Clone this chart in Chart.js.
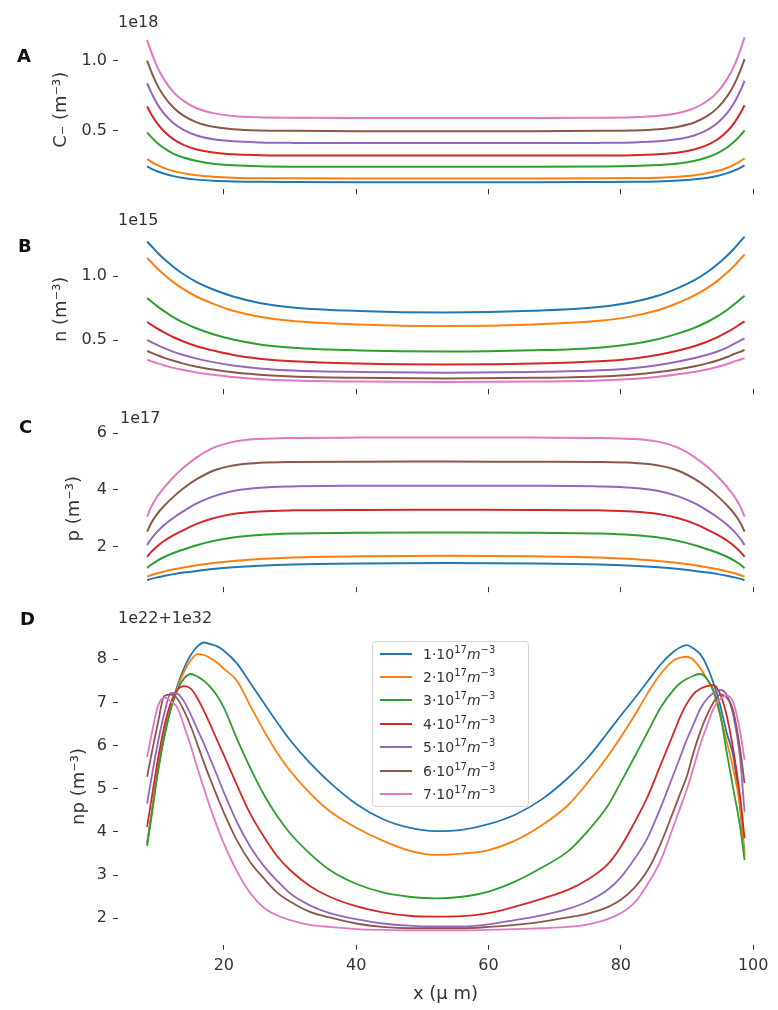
<!DOCTYPE html>
<html><head><meta charset="utf-8">
<script src="https://cdn.jsdelivr.net/npm/chart.js@4.4.1/dist/chart.umd.min.js"></script>
<style>
html,body{margin:0;padding:0;background:#fff;}
#page{position:relative;width:778px;height:1010px;overflow:hidden;font-family:'DejaVu Sans',sans-serif;color:#333;background:#fff;}
canvas{position:absolute;left:0;}
.panel{position:absolute;font-weight:bold;font-size:18px;line-height:18px;color:#111;}
.offset{position:absolute;font-size:16px;line-height:16px;color:#333;white-space:nowrap;}
#legend{position:absolute;left:372px;top:641px;width:157px;height:166px;box-sizing:border-box;border:1px solid rgba(204,204,204,0.8);border-radius:4px;background:rgba(255,255,255,0.8);}
.row{position:absolute;left:0;width:150px;height:20px;}
.sw{position:absolute;left:7px;top:9px;width:32px;height:2px;}
.txt{position:absolute;left:50px;top:0;font-size:14px;line-height:20px;color:#333;white-space:nowrap;}
.txt sup{font-size:10px;line-height:0;vertical-align:6px;}
</style></head>
<body>
<div id="page">
<canvas id="cA" width="778" height="205" style="top:0px;width:778px;height:205px"></canvas>
<canvas id="cB" width="778" height="200" style="top:205px;width:778px;height:200px"></canvas>
<canvas id="cC" width="778" height="200" style="top:405px;width:778px;height:200px"></canvas>
<canvas id="cD" width="778" height="405" style="top:605px;width:778px;height:405px"></canvas>
<div class="panel" style="left:17px;top:47px">A</div>
<div class="panel" style="left:18px;top:237px">B</div>
<div class="panel" style="left:19px;top:418px">C</div>
<div class="panel" style="left:20px;top:610px">D</div>
<div class="offset" id="offA" style="left:118px;top:14px"></div>
<div class="offset" id="offB" style="left:118px;top:212px"></div>
<div class="offset" id="offC" style="left:120px;top:410px"></div>
<div class="offset" id="offD" style="left:118px;top:610px"></div>
<div id="legend"></div>
</div>
<script>
// ---------------- data ----------------
const COLORS = ['#1f77b4','#ff7f0e','#2ca02c','#d62728','#9467bd','#8c564b','#e377c2'];
const concentrations = [1, 2, 3, 4, 5, 6, 7];   // x 10^17 m^-3
const legendLabels = concentrations.map(c => c + '·10¹⁷m⁻³');

// x positions (µm) for panels A, B, C
const xProfile = [8.4, 9.0, 9.9, 10.9, 12.4, 13.9, 15.9, 18.4, 21.4, 25.4, 30.4, 40.4, 53.55,
                  66.7, 76.7, 81.7, 85.7, 88.7, 91.2, 93.2, 94.7, 96.2, 97.2, 98.1, 98.7];

// Panel A: C- (units of 1e18 m^-3)
const cMinus = [
  [0.242,0.227,0.208,0.192,0.173,0.16,0.148,0.14,0.135,0.132,0.131,0.13,0.13,0.13,0.131,0.132,0.135,0.141,0.15,0.162,0.176,0.196,0.214,0.234,0.25],
  [0.295,0.277,0.253,0.232,0.209,0.194,0.179,0.169,0.162,0.158,0.157,0.156,0.156,0.156,0.157,0.159,0.162,0.169,0.18,0.195,0.211,0.235,0.257,0.281,0.30],
  [0.486,0.454,0.412,0.375,0.333,0.306,0.281,0.262,0.251,0.244,0.241,0.24,0.24,0.24,0.242,0.245,0.252,0.263,0.283,0.31,0.339,0.383,0.422,0.466,0.50],
  [0.671,0.618,0.552,0.496,0.436,0.397,0.364,0.342,0.329,0.323,0.321,0.32,0.32,0.32,0.321,0.323,0.33,0.342,0.365,0.399,0.439,0.50,0.558,0.626,0.68],
  [0.838,0.774,0.692,0.624,0.551,0.504,0.464,0.437,0.422,0.414,0.411,0.41,0.41,0.41,0.411,0.414,0.422,0.438,0.466,0.508,0.557,0.633,0.704,0.788,0.855],
  [1.0,0.924,0.828,0.748,0.662,0.606,0.558,0.526,0.509,0.50,0.497,0.495,0.495,0.495,0.497,0.50,0.509,0.527,0.559,0.608,0.665,0.753,0.835,0.933,1.01],
  [1.148,1.064,0.958,0.869,0.773,0.712,0.659,0.624,0.604,0.594,0.591,0.589,0.589,0.589,0.591,0.594,0.605,0.625,0.661,0.716,0.78,0.878,0.97,1.08,1.167]
];
// Panel B: n (units of 1e15 m^-3)
const nElectrons = [
  [1.269,1.236,1.186,1.136,1.070,1.014,0.953,0.895,0.840,0.790,0.755,0.727,0.715,0.728,0.758,0.795,0.848,0.908,0.970,1.035,1.095,1.166,1.219,1.272,1.308],
  [1.141,1.109,1.061,1.014,0.950,0.897,0.838,0.783,0.729,0.682,0.648,0.622,0.61,0.622,0.650,0.685,0.735,0.791,0.850,0.911,0.966,1.033,1.083,1.134,1.167],
  [0.828,0.803,0.765,0.728,0.678,0.636,0.590,0.546,0.504,0.466,0.440,0.419,0.41,0.420,0.441,0.469,0.508,0.552,0.597,0.645,0.689,0.741,0.781,0.820,0.846],
  [0.641,0.621,0.591,0.562,0.522,0.489,0.452,0.418,0.384,0.355,0.334,0.317,0.31,0.317,0.334,0.355,0.386,0.419,0.454,0.491,0.525,0.565,0.596,0.626,0.646],
  [0.50,0.485,0.462,0.439,0.408,0.383,0.355,0.328,0.302,0.279,0.263,0.251,0.245,0.251,0.264,0.281,0.305,0.332,0.360,0.387,0.413,0.445,0.473,0.497,0.513],
  [0.415,0.402,0.383,0.363,0.338,0.316,0.292,0.270,0.248,0.229,0.215,0.205,0.20,0.205,0.216,0.230,0.250,0.272,0.296,0.320,0.343,0.370,0.393,0.410,0.423],
  [0.346,0.336,0.320,0.304,0.283,0.266,0.247,0.229,0.211,0.195,0.185,0.176,0.172,0.176,0.185,0.197,0.214,0.233,0.253,0.273,0.292,0.315,0.334,0.348,0.359]
];
// Panel C: p (units of 1e17 m^-3)
const pHoles = [
  [0.82,0.862,0.916,0.964,1.03,1.084,1.144,1.21,1.27,1.324,1.366,1.402,1.42,1.402,1.366,1.324,1.27,1.21,1.144,1.084,1.03,0.964,0.916,0.862,0.82],
  [0.94,0.992,1.058,1.118,1.199,1.266,1.34,1.421,1.495,1.562,1.613,1.658,1.68,1.658,1.613,1.562,1.495,1.421,1.34,1.266,1.199,1.118,1.058,0.992,0.94],
  [1.25,1.362,1.50,1.625,1.775,1.90,2.05,2.20,2.325,2.412,2.462,2.494,2.5,2.494,2.462,2.412,2.325,2.20,2.05,1.90,1.775,1.625,1.50,1.362,1.24],
  [1.64,1.806,2.005,2.188,2.404,2.586,2.802,3.001,3.151,3.242,3.28,3.297,3.3,3.297,3.28,3.242,3.151,3.001,2.802,2.586,2.404,2.188,2.005,1.806,1.64],
  [2.06,2.269,2.52,2.75,3.021,3.251,3.523,3.774,3.962,4.077,4.125,4.146,4.15,4.146,4.125,4.077,3.962,3.774,3.523,3.251,3.021,2.75,2.52,2.269,2.06],
  [2.53,2.826,3.147,3.419,3.765,4.061,4.382,4.679,4.864,4.956,4.988,4.998,5.0,4.998,4.988,4.956,4.864,4.679,4.382,4.061,3.765,3.419,3.147,2.826,2.53],
  [3.06,3.395,3.757,4.064,4.455,4.79,5.152,5.487,5.697,5.80,5.836,5.847,5.85,5.847,5.836,5.80,5.697,5.487,5.152,4.79,4.455,4.064,3.757,3.395,3.06]
];
// Panel D: np (value = 1e32 + v * 1e22)
const xNP = [8.4, 9, 10, 11, 12, 13, 14, 15, 16, 17, 18, 19, 20, 22, 24, 26, 28, 30, 33, 36, 40, 44, 48, 52,
             56, 60, 64, 68, 72, 75, 78, 80, 82, 84, 86, 88, 89, 90, 91, 92, 93, 94, 95, 96, 97, 98, 98.7];
const npProduct = [
  [3.75,4.35,5.4,6.25,6.9,7.4,7.8,8.1,8.3,8.39,8.35,8.3,8.2,7.9,7.45,7.0,6.55,6.13,5.6,5.15,4.65,4.3,4.1,4.02,4.05,4.18,4.4,4.75,5.25,5.72,6.3,6.7,7.08,7.48,7.88,8.18,8.28,8.33,8.25,8.12,7.85,7.45,6.95,6.3,5.75,4.6,3.5],
  [3.72,4.33,5.38,6.22,6.88,7.35,7.72,7.98,8.12,8.1,8.02,7.92,7.78,7.5,6.92,6.36,5.85,5.42,4.9,4.48,4.1,3.8,3.57,3.47,3.5,3.58,3.8,4.15,4.62,5.15,5.75,6.2,6.68,7.2,7.66,7.98,8.04,8.06,7.98,7.8,7.55,7.25,6.7,6.1,5.45,4.6,3.45],
  [3.68,4.3,5.35,6.2,6.85,7.3,7.56,7.66,7.6,7.5,7.35,7.15,6.88,6.15,5.48,4.88,4.38,3.97,3.5,3.12,2.8,2.6,2.5,2.46,2.5,2.62,2.85,3.17,3.55,4.02,4.6,5.15,5.72,6.3,6.88,7.3,7.45,7.55,7.62,7.66,7.55,7.28,6.75,5.85,5.0,4.15,3.35],
  [4.12,4.7,5.65,6.45,7.0,7.3,7.38,7.32,7.1,6.8,6.47,6.12,5.78,5.08,4.42,3.9,3.45,3.12,2.75,2.5,2.28,2.14,2.06,2.04,2.05,2.12,2.27,2.45,2.66,2.9,3.25,3.66,4.2,4.8,5.55,6.3,6.68,6.98,7.2,7.32,7.38,7.4,7.2,6.7,5.9,4.85,3.85],
  [4.66,5.2,6.05,6.75,7.22,7.2,7.02,6.72,6.38,6.04,5.67,5.3,4.92,4.22,3.66,3.22,2.88,2.58,2.3,2.12,1.98,1.88,1.83,1.81,1.81,1.86,1.96,2.07,2.22,2.39,2.66,2.95,3.36,3.85,4.56,5.35,5.75,6.15,6.5,6.85,7.08,7.22,7.29,7.18,6.7,5.75,4.47],
  [5.28,5.75,6.5,7.15,7.18,7.08,6.8,6.45,6.03,5.6,5.2,4.82,4.45,3.8,3.3,2.93,2.6,2.39,2.15,2.02,1.88,1.8,1.77,1.77,1.77,1.8,1.85,1.92,2.02,2.11,2.26,2.43,2.7,3.1,3.72,4.5,4.9,5.3,5.85,6.32,6.7,7.0,7.18,7.12,6.8,5.95,5.13],
  [5.74,6.2,6.9,7.12,7.02,6.87,6.45,5.99,5.48,5.0,4.54,4.12,3.73,3.08,2.58,2.25,2.07,1.96,1.85,1.8,1.75,1.73,1.72,1.72,1.72,1.73,1.75,1.77,1.8,1.86,1.98,2.12,2.35,2.78,3.33,4.15,4.57,5.0,5.5,6.02,6.45,6.86,7.08,7.16,7.0,6.35,5.67]
];

// ticks and labels
const xTicks = [20, 40, 60, 80, 100];
const xTickLabels = ['20', '40', '60', '80', '100'];
const yTicksA = [0.5, 1.0], yLabelsA = ['0.5', '1.0'];
const yTicksB = [0.5, 1.0], yLabelsB = ['0.5', '1.0'];
const yTicksC = [2, 4, 6],  yLabelsC = ['2', '4', '6'];
const yTicksD = [2, 3, 4, 5, 6, 7, 8], yLabelsD = ['2', '3', '4', '5', '6', '7', '8'];
const offsetTexts = ['1e18', '1e15', '1e17', '1e22+1e32'];
const yTitles = ['C₋ (m⁻³)', 'n (m⁻³)', 'p (m⁻³)', 'np (m⁻³)'];
const xTitle = 'x (μ m)';

// ---------------- rendering ----------------
const FONT = "'DejaVu Sans', sans-serif";
const TXT = '#333';

function makePanel(id, xs, series, o) {
  const datasets = series.map((ys, i) => ({
    label: legendLabels[i],
    data: xs.map((x, j) => ({x: x, y: ys[j]})),
    borderColor: COLORS[i],
    backgroundColor: COLORS[i],
    borderWidth: o.lw,
    pointRadius: 0,
    fill: false,
    cubicInterpolationMode: 'monotone',
    order: series.length - i
  }));
  return new Chart(document.getElementById(id), {
    type: 'line',
    data: {datasets},
    options: {
      responsive: false, animation: false, devicePixelRatio: 1,
      layout: {autoPadding: false, padding: {left: 0, right: 5, top: o.padTop, bottom: 0}},
      plugins: {legend: {display: false}, tooltip: {enabled: false}, title: {display: false}},
      scales: {
        x: {
          type: 'linear', min: 4, max: 103,
          afterBuildTicks: s => { s.ticks = xTicks.map(v => ({value: v})); },
          afterFit: s => { s.height = o.xHeight; },
          border: {display: false},
          grid: {display: true, drawOnChartArea: false, drawTicks: true, tickLength: 5, color: TXT, lineWidth: 1},
          ticks: {display: o.showX, padding: 6, color: TXT, font: {family: FONT, size: 16},
                  maxRotation: 0, autoSkip: false, callback: (v, i) => xTickLabels[i]},
          title: o.showX ? {display: true, text: xTitle, color: TXT, font: {family: FONT, size: 18},
                  padding: {top: 0, bottom: 5}} : {display: false}
        },
        y: {
          type: 'linear', min: o.ymin, max: o.ymax,
          afterBuildTicks: s => { s.ticks = o.yTicks.map(v => ({value: v})); },
          afterFit: s => { s.width = 118; },
          border: {display: false},
          grid: {display: true, drawOnChartArea: false, drawTicks: true, tickLength: 5, color: TXT, lineWidth: 1},
          ticks: {padding: 6, color: TXT, font: {family: FONT, size: 16}, callback: (v, i) => o.yLabels[i]},
          title: {display: true, text: o.yTitle, color: TXT, font: {family: FONT, size: 18},
                  padding: {top: o.titlePad, bottom: 0}}
        }
      }
    }
  });
}

makePanel('cA', xProfile, cMinus,     {lw: 2.0, padTop: 30.0, xHeight: 15.2, ymin: 0.078, ymax: 1.219,
  yTicks: yTicksA, yLabels: yLabelsA, yTitle: yTitles[0], titlePad: 51, showX: false});
makePanel('cB', xProfile, nElectrons, {lw: 2.0, padTop: 24.25, xHeight: 13.25, ymin: 0.115, ymax: 1.365,
  yTicks: yTicksB, yLabels: yLabelsB, yTitle: yTitles[1], titlePad: 51, showX: false});
makePanel('cC', xProfile, pHoles,     {lw: 2.0, padTop: 25.4, xHeight: 17.8, ymin: 0.5685, ymax: 6.1015,
  yTicks: yTicksC, yLabels: yLabelsC, yTitle: yTitles[2], titlePad: 64, showX: false});
makePanel('cD', xNP, npProduct,       {lw: 1.8, padTop: 23.1, xHeight: 65.2, ymin: 1.3865, ymax: 8.7235,
  yTicks: yTicksD, yLabels: yLabelsD, yTitle: yTitles[3], titlePad: 69, showX: true});

['offA', 'offB', 'offC', 'offD'].forEach((id, i) => { document.getElementById(id).textContent = offsetTexts[i]; });

const legend = document.getElementById('legend');
concentrations.forEach((c, i) => {
  const row = document.createElement('div');
  row.className = 'row';
  row.style.top = (1.5 + i * 23.45) + 'px';
  row.innerHTML = '<span class="sw" style="background:' + COLORS[i] + '"></span>' +
    '<span class="txt">' + c + '·10<sup>17</sup><i>m</i><sup>−3</sup></span>';
  legend.appendChild(row);
});
</script>
</body></html>
